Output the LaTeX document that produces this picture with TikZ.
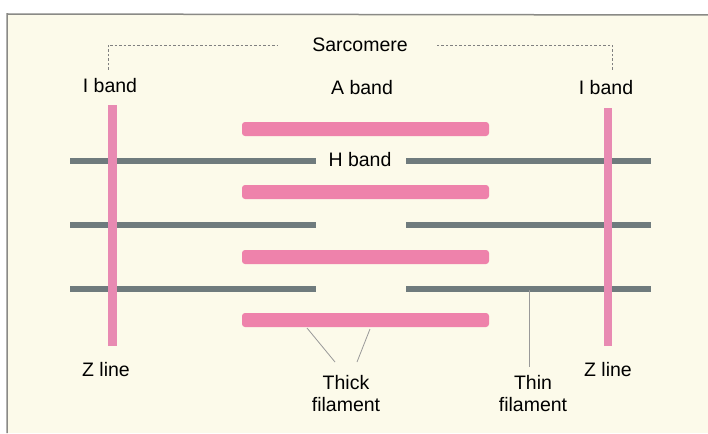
\documentclass[tikz,border=0pt]{standalone}
\usepackage{fontspec}
\setmainfont{Liberation Sans}
\definecolor{cream}{HTML}{FCFAEA}
\definecolor{thickpink}{HTML}{EE82AB}
\definecolor{zpink}{HTML}{E88AB2}
\definecolor{thingray}{HTML}{6F7B7D}
\definecolor{framegray}{HTML}{8A8A86}
\begin{document}
\begin{tikzpicture}[x=1pt,y=-1pt,
  lbl/.style={font=\fontsize{19.5}{22}\selectfont, inner sep=0pt, align=center, text=black},
  thickfil/.style={fill=thickpink, rounded corners=3pt},
  thinfil/.style={line width=6.5pt, thingray},
  zline/.style={line width=8.5pt, zpink},
  leader/.style={line width=0.8pt, gray!80},
  bracket/.style={line width=0.7pt, gray, dash pattern=on 2.5pt off 2pt}]
\useasboundingbox (0,0) rectangle (708,433);
\fill[white] (0,0) rectangle (708,433);
\fill[cream] (7,14) rectangle (708,433);
\draw[framegray, line width=1.5pt] (7,433) -- (7,14) -- (708,15);
% thin filaments
\foreach \y in {161,225,289} {
  \draw[thinfil] (70,\y) -- (316,\y);
  \draw[thinfil] (406,\y) -- (651,\y);
}
% Z lines
\draw[zline] (112.5,105) -- (112.5,346);
\draw[zline] (608,108) -- (608,346);
% thick filaments
\foreach \y in {129,192,257,320} {
  \path[thickfil] (242,\y-7) rectangle (489,\y+7);
}
% labels
\node[lbl] (sarc) at (360,45) {Sarcomere};
\node[lbl] (ibl) at (110,86) {I band};
\node[lbl] (ab) at (362,88) {A band};
\node[lbl] (ibr) at (606,88) {I band};
\node[lbl] (hb) at (360,160) {H band};
\node[lbl] (zl) at (106,370) {Z line};
\node[lbl] (zr) at (608,370) {Z line};
\node[lbl] (thick) at (346,394) {Thick\\filament};
\node[lbl] (thin) at (533,394) {Thin\\filament};
% sarcomere bracket
\coordinate (bl) at (108,70);
\coordinate (br) at (612,70);
\draw[bracket] (bl) -- (108,45) -- (278,45);
\draw[bracket] (br) -- (612,45) -- (437,45);
% leaders
\draw[leader] (307,328) -- (335,362);
\draw[leader] (370,329) -- (357,362);
\draw[leader] (529,290) -- (529,367);
\end{tikzpicture}
\end{document}
